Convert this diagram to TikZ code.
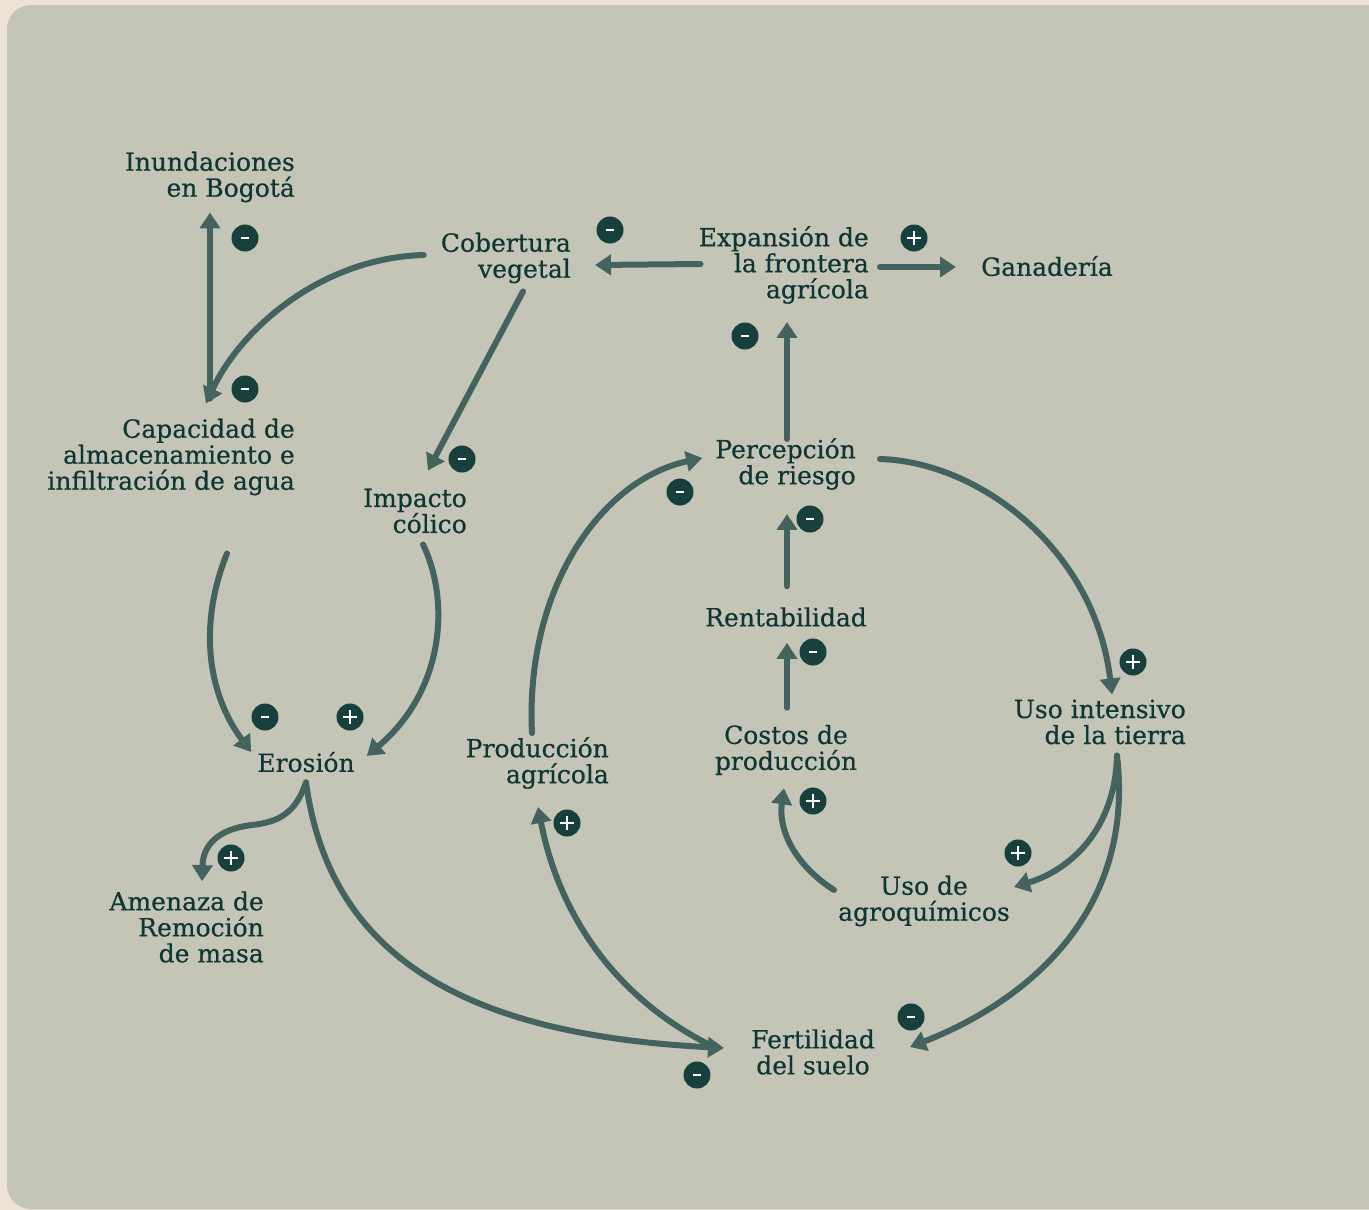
\documentclass[tikz,border=0pt]{standalone}
\usepackage{fontspec}
\setmainfont{DejaVu Serif}[FakeBold=0.5]
\usetikzlibrary{arrows.meta,calc}
\definecolor{outerbg}{HTML}{ECE3D6}
\definecolor{innerbg}{HTML}{C4C5B7}
\definecolor{arrowc}{HTML}{44635F}
\definecolor{badgec}{HTML}{173F3C}
\definecolor{textc}{HTML}{0F3633}
\begin{document}
\begin{tikzpicture}[x=1pt,y=-1pt,
  lbl/.style={inner sep=0pt, text=textc, font=\fontsize{25}{26}\selectfont, align=right},
  lblc/.style={lbl, align=center},
  arr/.style={draw=arrowc, line width=6pt, line cap=round, -{Triangle[width=20pt,length=16pt]}},
  badge/.style={circle, fill=badgec, minimum size=27pt, inner sep=0pt},
  minus/.style={badge, path picture={\draw[white, line width=2.6pt] ($(path picture bounding box.center)+(-4,0)$) -- ++(8,0);}},
  plus/.style={badge, path picture={\draw[white, line width=2.8pt] ($(path picture bounding box.center)+(-7,0)$) -- ++(14,0) ($(path picture bounding box.center)+(0,-7)$) -- ++(0,14);}}
]
\clip (0,0) rectangle (1369,1210);
\fill[outerbg] (0,0) rectangle (1369,1210);
\fill[innerbg, rounded corners=24pt] (7,5) rectangle (1400,1209);

% labels
\node[lbl, anchor=east] (inund) at (295,177) {Inundaciones\\en Bogotá};
\node[lbl, anchor=east] (cob) at (571,258) {Cobertura\\vegetal};
\node[lbl, anchor=east] (exp) at (869,265) {Expansión de\\la frontera\\agrícola};
\node[lbl, anchor=west] (gan) at (981,266) {Ganadería};
\node[lbl, anchor=east] (cap) at (295,457) {Capacidad de\\almacenamiento e\\infiltración de agua};
\node[lbl, anchor=east] (imp) at (467,511) {Impacto\\cólico};
\node[lbl, anchor=east] (perc) at (856,464) {Percepción\\de riesgo};
\node[lblc] (rent) at (786,617) {Rentabilidad};
\node[lblc] (cost) at (786,750) {Costos de\\producción};
\node[lbl, anchor=east] (uso) at (1186,722) {Uso intensivo\\de la tierra};
\node[lbl, anchor=east] (prod) at (609,763) {Producción\\agrícola};
\node[lblc] (ero) at (306,762) {Erosión};
\node[lbl, anchor=east] (amen) at (264,927) {Amenaza de\\Remoción\\de masa};
\node[lblc] (agro) at (924,901) {Uso de\\agroquímicos};
\node[lblc] (fert) at (813,1052) {Fertilidad\\del suelo};

% connectors
\draw[arr] ([shift={(-85,-20)}]cap.north east) -- ([shift={(-85,10)}]inund.south east);
\draw[arr] ([shift={(-17,-3)}]cob.west) .. controls (320,258) and (240,330) .. ([shift={(-89,-15)}]cap.north east);
\draw[arr] ([shift={(-48,8)}]cob.south east) -- ([shift={(-39,-18)}]imp.north east);
\draw[arr] ([shift={(2,-1)}]exp.west) -- ([shift={(24,7)}]cob.east);
\draw[arr] ([shift={(11,2)}]exp.east) -- ([shift={(-25,1)}]gan.west);
\draw[arr] ([shift={(-69,1)}]perc.north east) -- ([shift={(-82,18)}]exp.south east);
\draw[arr] ([shift={(1,-21)}]rent.north) -- ([shift={(-69,24)}]perc.south east);
\draw[arr] ([shift={(1,-17)}]cost.north) -- ([shift={(1,16)}]rent.south);
\draw[arr] ([shift={(-4,-11)}]agro.west) .. controls (795,865) and (778,830) .. ([shift={(-2,13)}]cost.south);
\draw[arr] ([shift={(-77,-4)}]prod.north east) .. controls (525,590) and (600,480) .. ([shift={(-13,-6)}]perc.west);
\draw[arr] ([shift={(24,-5)}]perc.east) .. controls (980,462) and (1095,550) .. ([shift={(-74,-5)}]uso.north east);
\draw[arr] ([shift={(-69,11)}]uso.south east) .. controls (1115,830) and (1070,870) .. ([shift={(4,-14)}]agro.east);
\draw[arr] ([shift={(-69,11)}]uso.south east) .. controls (1135,910) and (1030,1000) .. ([shift={(35,-5)}]fert.east);
\draw[arr] ([shift={(0,10)}]ero.south) .. controls (330,960) and (470,1035) .. ([shift={(-27,-4)}]fert.west);
\draw[arr] ([shift={(-41,-7)}]fert.west) .. controls (620,1000) and (560,920) .. ([shift={(-71,18)}]prod.south east);
\draw[arr] ([shift={(-68,58)}]cap.south east) .. controls (200,620) and (205,690) .. ([shift={(-6,-10)}]ero.west);
\draw[arr] ([shift={(-44,11)}]imp.south east) .. controls (450,600) and (445,690) .. ([shift={(12,-6)}]ero.east);
\draw[arr] ([shift={(0,10)}]ero.south) .. controls (296,812) and (280,822) .. (252,825) .. controls (218,829) and (203,845) .. ([shift={(-62,-10)}]amen.north east);

% badges
\node[minus] (b1) at (245,238) {};
\node[minus] (b2) at (245,389) {};
\node[minus] (b3) at (610,230) {};
\node[plus] (b4) at (914,238) {};
\node[minus] (b5) at (745,336) {};
\node[minus] (b6) at (462,459) {};
\node[minus] (b7) at (680,492) {};
\node[minus] (b8) at (810,519) {};
\node[minus] (b9) at (813,652) {};
\node[plus] (b10) at (1133,662) {};
\node[minus] (b11) at (265,717) {};
\node[plus] (b12) at (350,717) {};
\node[plus] (b13) at (813,801) {};
\node[plus] (b14) at (567,823) {};
\node[plus] (b15) at (231,858) {};
\node[plus] (b16) at (1018,853) {};
\node[minus] (b17) at (911,1017) {};
\node[minus] (b18) at (697,1075) {};
\end{tikzpicture}
\end{document}
